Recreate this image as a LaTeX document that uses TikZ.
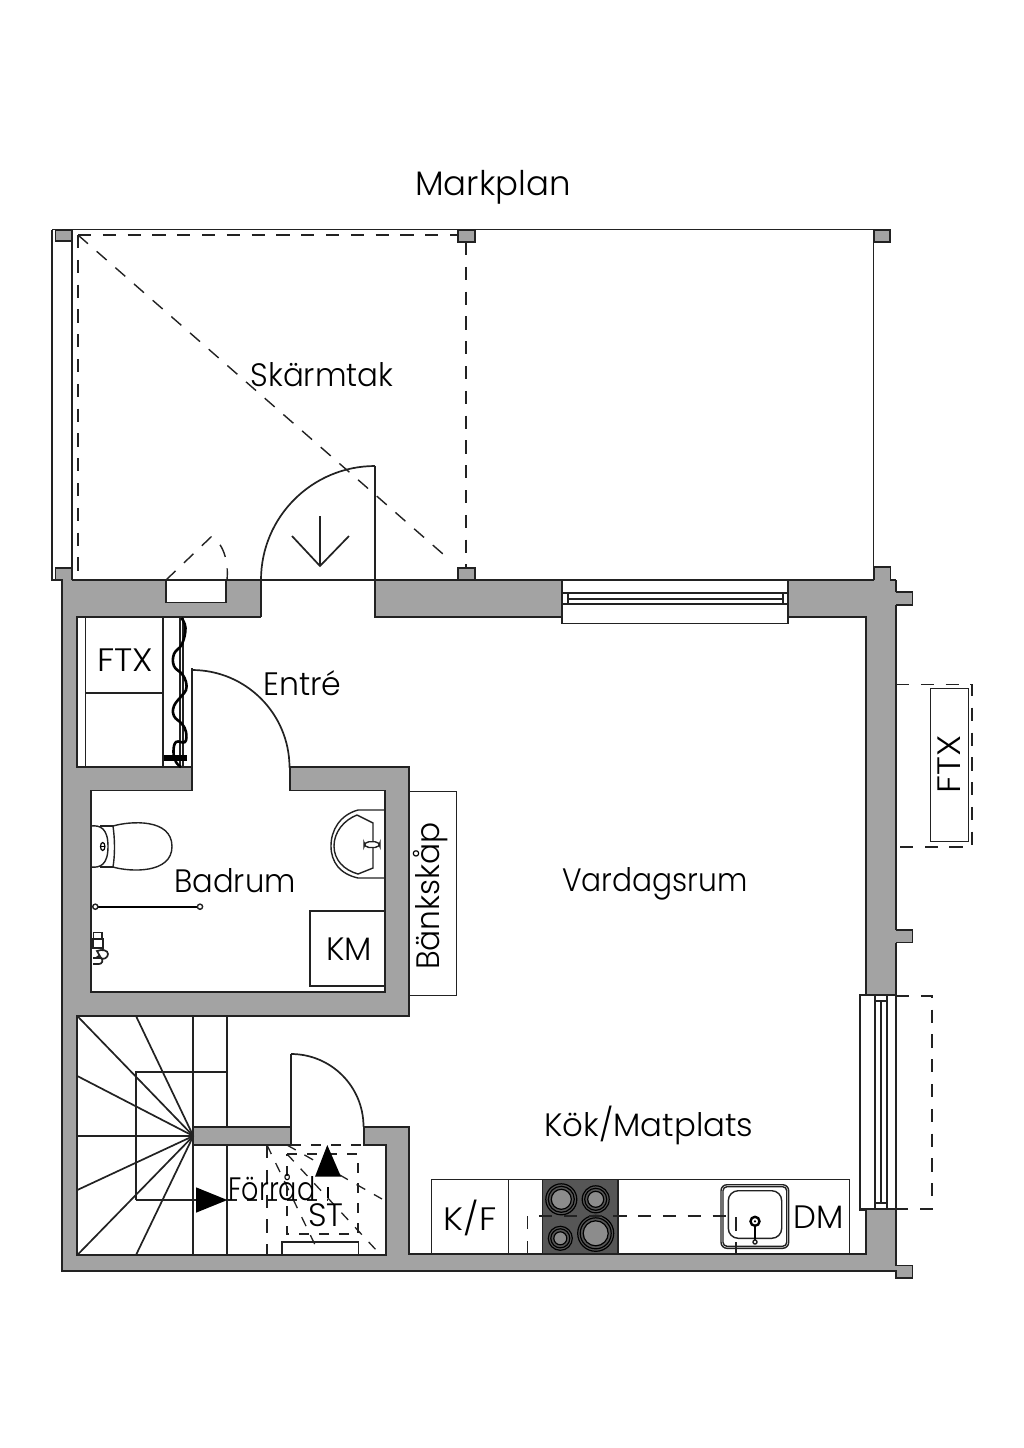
\documentclass[tikz,border=0pt]{standalone}
\usepackage{graphicx}
\usepackage{fontspec}
\setmainfont{Poppins}[UprightFont=* Light]
\definecolor{wallc}{HTML}{A3A3A3}
\definecolor{linec}{HTML}{222222}
\definecolor{hobc}{HTML}{565656}
\newcommand{\sx}[2]{\scalebox{#1}[1]{#2}}
\begin{document}
\begin{tikzpicture}[x=0.5pt,y=-0.5pt,
  ln/.style={draw=linec,line width=0.85pt,line join=miter},
  thin ln/.style={draw=linec,line width=0.7pt},
  dashA/.style={draw=linec,line width=0.7pt,dash pattern=on 6.6pt off 5.8pt},
  dashC/.style={draw=linec,line width=0.65pt,dash pattern=on 5pt off 5pt},
  lbl/.style={font=\fontsize{16.2pt}{18pt}\selectfont,text=black,inner sep=0pt},
  burner/.style={draw=black,line width=0.6pt,fill=hobc},
  pillar/.style={draw=linec,line width=0.7pt,fill=wallc}]
\useasboundingbox (0,0) rectangle (1024,1448);
\fill[white] (0,0) rectangle (1024,1448);
% walls, gray mass
\fill[wallc] (55.7,568)--(72,568)--(72,580)--(874,580)--(874,567)--(890.7,567)--(890.7,580)--(896,580)--(896,592)--(912.7,592)--(912.7,605)--(896,605)--(896,930)--(912.7,930)--(912.7,942.7)--(896,942.7)--(896,1265.7)--(912.7,1265.7)--(912.7,1278)--(896,1278)--(896,1270.7)--(62,1270.7)--(62,580)--(55.7,580)--cycle;
% rooms
\fill[white] (261,580)--(375,580)--(375,617)--(866,617)--(866,1254)--(409,1254)--(409,1127)--(364,1127)--(364,1145)--(386,1145)--(386,1255)--(77,1255)--(77,1016)--(409,1016)--(409,767)--(290,767)--(290,790.5)--(385,790.5)--(385,992)--(91,992)--(91,790.5)--(192,790.5)--(192,767)--(77,767)--(77,617)--(261,617)--cycle;
\fill[white] (166,580) rectangle (226,602.5);
\fill[white] (562,580) rectangle (788,617);
\fill[white] (866,995) rectangle (896,1209);
\fill[wallc] (193,1127) rectangle (291,1145);
% wall outlines
\draw[ln] (261,617)--(77,617)--(77,767)--(192,767);
\draw[ln] (261,580)--(261,617);
\draw[ln] (375,580)--(375,617)--(562,617);
\draw[ln] (788,617)--(866,617)--(866,995);
\draw[ln] (866,1209)--(866,1254)--(409,1254)--(409,1127)--(364,1127)--(364,1145)--(386,1145)--(386,1255)--(77,1255)--(77,1016)--(409,1016)--(409,767)--(290,767)--(290,790.5)--(385,790.5)--(385,992)--(91,992)--(91,790.5)--(192,790.5)--(192,668);
\draw[ln] (291,1054)--(291,1145)--(193,1145)--(193,1127)--(291,1127);
\draw[ln] (52,229.5)--(52,580)--(62,580)--(62,1270.7)--(896,1270.7);
\draw[ln] (72,568)--(72,580);
\draw[ln] (896,580)--(896,592);
\draw[ln] (896,605)--(896,930);
\draw[ln] (896,942.7)--(896,1266);
% gallery top and sides
\draw[ln] (52,229.5)--(890,229.5);
\draw[ln] (72,229.5)--(72,568);
\draw[ln] (873.5,229.5)--(873.5,580);
\draw[ln] (72,580)--(874,580);
\draw[pillar] (55.7,230)--(72,230)--(72,241)--(55.7,241)--cycle;
\draw[pillar] (458,230)--(475,230)--(475,242)--(458,242)--cycle;
\draw[pillar] (874,230)--(890,230)--(890,242)--(874,242)--cycle;
\draw[pillar] (458,580)--(458,568)--(475,568)--(475,580)--cycle;
\draw[thin ln] (874,580)--(874,567)--(890.7,567)--(890.7,580)--(896,580);
\draw[thin ln] (896,592)--(912.7,592)--(912.7,605)--(896,605);
\draw[thin ln] (896,930)--(912.7,930)--(912.7,942.7)--(896,942.7);
\draw[thin ln] (896,1265.7)--(912.7,1265.7)--(912.7,1278)--(896,1278)--(896,1270);
\draw[thin ln] (55.7,580)--(55.7,568)--(72,568);
% shelter dashes
\draw[dashA] (78,235)--(458,235);
\draw[dashA] (78,235)--(78,580);
\draw[dashA] (466,242)--(466,568);
\draw[dashA] (78,235)--(451,561);
% main door
\draw[ln] (261,580) arc[start angle=180,end angle=270,radius=114];
\draw[ln] (375,466)--(375,580);
\draw[ln] (320,516)--(320,566);
\draw[ln] (292,536)--(320,566)--(349,536);
% niche
\draw[ln] (166,580)--(166,602.5)--(226,602.5)--(226,580);
\draw[dashA] (166,580)--(211,537) .. controls (222,541) and (229,560) .. (227,580);
% window top
\draw[ln] (561,623.5)--(789,623.5);
\draw[ln] (562,580)--(562,623.5);
\draw[ln] (788,580)--(788,623.5);
\draw[ln] (562,593)--(788,593);
\draw[ln] (562,604)--(788,604);
\draw[ln] (568,593)--(568,604);
\draw[ln] (783,593)--(783,604);
\draw[ln] (568,599)--(783,599);
% window right
\draw[ln] (866,995)--(860,995)--(860,1210)--(866,1210);
\draw[ln] (860,995)--(896,995);
\draw[ln] (860,1209)--(896,1209);
\draw[ln] (896,995)--(896,1209);
\draw[ln] (875.3,995)--(875.3,1209);
\draw[ln] (886.7,995)--(886.7,1209);
\draw[ln] (875.3,1001)--(886.7,1001);
\draw[ln] (875.3,1203)--(886.7,1203);
\draw[ln] (881,1001)--(881,1203);
\draw[dashA] (896,996)--(932,996)--(932,1209)--(896,1209);
% ftx outside
\draw[thin ln] (930.7,688.3) rectangle (968.3,841.7);
\draw[dashA] (896,684.5)--(972,684.5)--(972,847)--(896,847);
% closet
\draw[thin ln] (85.6,617)--(85.6,767);
\draw[thin ln] (163,617)--(163,767);
\draw[thin ln] (85.6,693)--(163,693);
\draw[thin ln] (180,617)--(180,767);
\draw[thin ln] (183,617)--(183,767);
\draw[draw=black,line width=1.3pt] plot[smooth,tension=0.7] coordinates {(181.5,618)(185.5,628)(182,644)(174,654)(174,666)(182,674)(186,682)(186,690)(181.5,696)(174,706)(174,716)(182,724)(186,732)(185,742)(176,742)(173.5,752)(176,762)(181,767)};
\fill[black] (164,755) rectangle (187,761);
\draw[ln] (192,670) arc[start angle=270,end angle=360,radius=97.5];
% toilet
\draw[thin ln] (91,826) .. controls (100,825) and (108,828) .. (108,846.5) .. controls (108,865) and (100,868) .. (91,867);
\draw[thin ln] (100,826)--(113,826);
\draw[thin ln] (100,867)--(113,867);
\draw[thin ln] (113,826) .. controls (130,821) and (172,818) .. (172,846.5) .. controls (172,874) and (130,872) .. (113,867);
\draw[thin ln] (113,826) .. controls (115,840) and (115,855) .. (113,867);
\draw[line width=0.6pt] (102.7,846.5) ellipse [x radius=2.2,y radius=4];
\draw[line width=0.5pt] (100.5,846.5)--(105,846.5);
% sink
\draw[thin ln] (385,810)--(358,810) .. controls (340,815) and (331,830) .. (331,846) .. controls (331,862) and (340,874) .. (358,878)--(385,878);
\draw[thin ln] (357,815)--(373,823)--(373,868)--(358,874) .. controls (344,870) and (334,860) .. (334,846) .. controls (334,832) and (344,820) .. (357,815);
\draw[thin ln,fill=white,rounded corners=2.5pt] (364,841.7) rectangle (380,847.5);
% shower
\draw[draw=black,line width=1pt] (95,906.7)--(200,906.7);
\draw[thin ln,fill=white] (95.3,906.7) circle[radius=2.6];
\draw[thin ln,fill=white] (200,906.7) circle[radius=2.6];
\draw[ln,fill=white] (93.5,932.5) rectangle (102,939);
\draw[ln,fill=white] (93,939) rectangle (103,948);
\draw[ln,fill=white] (93,948)--(102,948)--(104,952)--(96,958)--(93,958);
\draw[ln,fill=white] (97,951) .. controls (102,949) and (108,950) .. (108,954) .. controls (108,958) and (103,960) .. (101,958) --cycle;
\draw[ln,fill=white] (93,958)--(101,958) .. controls (104,960) and (102,964) .. (99,964)--(93,964);
% km, bankskap
\draw[thin ln] (385,911)--(310,911)--(310,986)--(385,986);
\draw[thin ln] (409,791.7)--(456.7,791.7)--(456.7,995.7)--(409,995.7);
% stairs
\coordinate (fan) at (193.3,1136);
\draw[ln] (fan)--(77.3,1016);
\draw[ln] (fan)--(136,1016);
\draw[ln] (fan)--(77.3,1076);
\draw[ln] (fan)--(77.3,1136);
\draw[ln] (fan)--(77.3,1190);
\draw[ln] (fan)--(77.3,1255);
\draw[ln] (fan)--(136,1255);
\draw[ln] (193.3,1016)--(193.3,1127);
\draw[ln] (193.3,1145)--(193.3,1255);
\draw[ln] (227.3,1016)--(227.3,1127);
\draw[ln] (227.3,1145)--(227.3,1255);
\draw[ln] (136,1200)--(136,1071.7)--(227.3,1071.7);
\draw[ln] (136,1200)--(196,1200);
\fill[black] (196,1187.3)--(196,1212.7)--(227.3,1200)--cycle;
\draw[dashC] (227.3,1200)--(328,1200);
\draw[dashA] (267,1145)--(267,1255);
\draw[dashC] (267,1145)--(318,1251);
\draw[dashC] (287,1145)--(382,1199);
\draw[dashC] (287,1154)--(378,1252);
\draw[dashC] (291,1145)--(364,1145);
\draw[dashC] (287,1154)--(358,1154)--(358,1234)--(287,1234)--cycle;
\draw[line width=0.6pt] (328,1187)--(328,1198);
\draw[thin ln] (282,1255)--(282,1242)--(358.3,1242)--(358.3,1255);
\fill[black] (327.3,1145)--(315,1176.7)--(341,1176.7)--cycle;
\draw[ln] (291,1054) arc[start angle=270,end angle=360,radius=72.5];
% kitchen
\draw[thin ln] (431.7,1254)--(431.7,1179.3)--(849.3,1179.3)--(849.3,1254);
\draw[thin ln] (508.7,1179.3)--(508.7,1254);
\fill[hobc] (542.7,1179.3) rectangle (618,1254);
\draw[thin ln] (542.7,1179.3) rectangle (618,1254);
\foreach \cx/\cy/\ra in {561.3/1199.3/15.5,595.7/1199.3/13.5,560.3/1238.3/12,595.7/1233.3/18}{
  \draw[burner] (\cx,\cy) circle[radius=\ra];
  \draw[burner] (\cx,\cy) circle[radius=\ra-2.5];
  \draw[burner,fill=gray!90] (\cx,\cy) circle[radius=\ra-5.5];
}
\draw[dashA] (527.3,1254)--(527.3,1216)--(736,1216)--(736,1254);
\draw[thin ln,rounded corners=3pt] (721,1184.7) rectangle (788.7,1248.3);
\draw[thin ln,rounded corners=2pt] (723,1186.7) rectangle (786.7,1246.3);
\draw[thin ln,rounded corners=5pt] (728.3,1190.7) rectangle (781.7,1238.3);
\draw[draw=black,line width=1.1pt] (755,1221)--(755,1240);
\draw[thin ln,fill=white] (755,1242) circle[radius=2];
\draw[draw=black,line width=1.2pt,fill=white] (755,1221.3) circle[radius=4.5];
\fill[black] (755,1221.3) circle[radius=1.2];
% labels
\node[lbl,font=\fontsize{17pt}{19pt}\selectfont] (t1) at (493,187) {\sx{1.0}{Markplan}};
\node[lbl] (t2) at (322,375) {\sx{0.953}{Skärmtak}};
\node[lbl] (t3) at (302.5,683) {\sx{0.975}{Entré}};
\node[lbl] (t4) at (125,660) {\sx{1.08}{FTX}};
\node[lbl] (t5) at (235,881) {\sx{0.945}{Badrum}};
\node[lbl] (t6) at (349,949) {KM};
\node[lbl,rotate=90] (t7) at (431,896) {\sx{0.966}{Bänkskåp}};
\node[lbl] (t8) at (655,884) {\sx{0.916}{Vardagsrum}};
\node[lbl,rotate=90] (t9) at (949,764) {\sx{1.12}{FTX}};
\node[lbl] (t10) at (649,1125) {Kök/Matplats};
\node[lbl] (t11) at (470,1218) {\sx{1.08}{K/F}};
\node[lbl] (t12) at (819,1217) {DM};
\node[lbl] (t13) at (326,1215) {ST};
\node[lbl] (t14) at (272,1187) {\sx{0.835}{Förråd}};
\end{tikzpicture}
\end{document}
